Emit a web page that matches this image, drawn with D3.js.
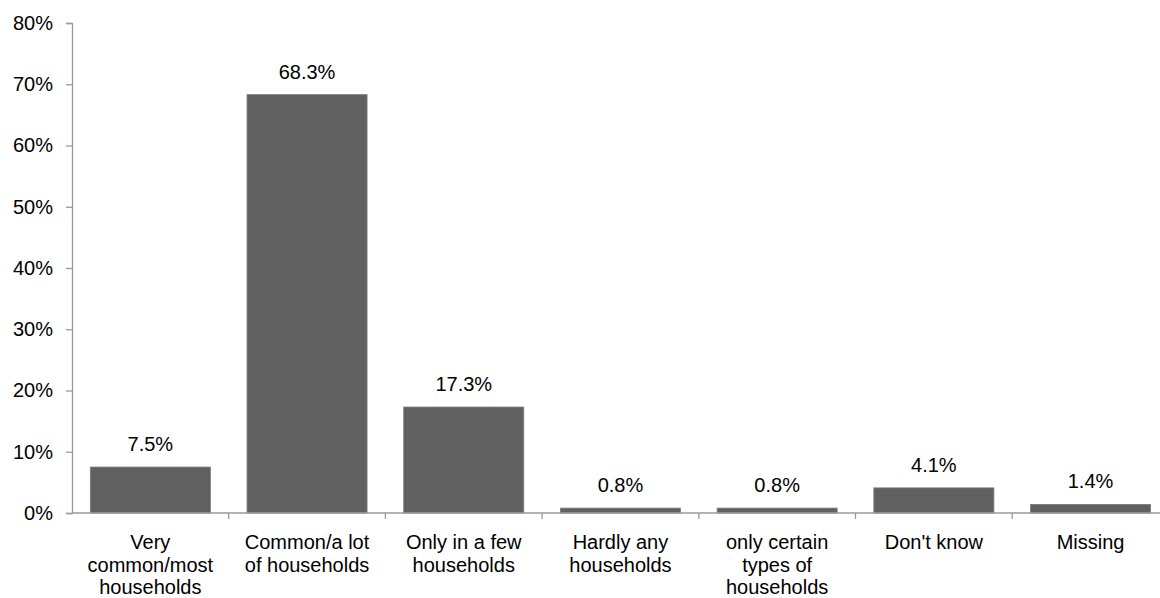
<!DOCTYPE html>
<html>
<head>
<meta charset="utf-8">
<script src="https://cdn.jsdelivr.net/npm/d3@7"></script>
<style>
  html, body { margin: 0; padding: 0; background: #fff; }
  svg { display: block; font-family: "Liberation Sans", Arial, sans-serif; }
</style>
</head>
<body>
<svg id="chart" width="1160" height="598"></svg>
<script>
// Survey responses: how widespread the practice is among households
const categories = [
  "Very common/most households",
  "Common/a lot of households",
  "Only in a few households",
  "Hardly any households",
  "only certain types of households",
  "Don't know",
  "Missing"
];
const shares = [7.5, 68.3, 17.3, 0.8, 0.8, 4.1, 1.4];
const yTicks = [0, 10, 20, 30, 40, 50, 60, 70, 80];

const svg = d3.select("#chart");
const plotLeft = 72, plotTop = 23, plotBottom = 513;
const bandW = 156.7;
const plotRight = plotLeft + bandW * categories.length;

const x = d3.scaleBand()
  .domain(categories)
  .range([plotLeft, plotRight])
  .paddingInner(0.234)
  .paddingOuter(0.117);

const y = d3.scaleLinear().domain([0, 80]).range([plotBottom, plotTop]);

const axisColor = "#9a9a9a";
const fontSize = 20;
const textColor = "#000";

// Bars
svg.append("g").selectAll("rect")
  .data(categories)
  .join("rect")
  .attr("x", d => x(d))
  .attr("width", x.bandwidth())
  .attr("y", (d, i) => y(shares[i]))
  .attr("height", (d, i) => y(0) - y(shares[i]))
  .attr("fill", "#606060")
  .attr("stroke", "#7a7a7a")
  .attr("stroke-width", 0.8);

// Value labels
svg.append("g").selectAll("text")
  .data(categories)
  .join("text")
  .attr("x", d => x(d) + x.bandwidth() / 2)
  .attr("y", (d, i) => y(shares[i]) - 16)
  .attr("text-anchor", "middle")
  .attr("font-size", fontSize)
  .attr("fill", textColor)
  .text((d, i) => shares[i].toFixed(1) + "%");

// Y axis
const yAxis = svg.append("g")
  .attr("transform", `translate(${plotLeft},0)`)
  .call(d3.axisLeft(y).tickValues(yTicks).tickFormat(d => d + "%").tickSize(6).tickPadding(13));
yAxis.select(".domain").attr("stroke", axisColor).attr("stroke-width", 1.3);
yAxis.selectAll(".tick line").attr("stroke", axisColor).attr("stroke-width", 1.3);
yAxis.selectAll(".tick text")
  .attr("font-size", fontSize)
  .attr("font-family", "Liberation Sans, Arial, sans-serif")
  .attr("fill", textColor);

// X axis: baseline with ticks at the band boundaries
const xg = svg.append("g");
xg.append("line")
  .attr("x1", plotLeft).attr("x2", 1160)
  .attr("y1", plotBottom).attr("y2", plotBottom)
  .attr("stroke", axisColor).attr("stroke-width", 1.3);
const boundaries = categories.map(c => x(c) - x.step() * x.paddingInner() / 2).slice(1);
xg.selectAll("line.tick")
  .data(boundaries)
  .join("line")
  .attr("class", "tick")
  .attr("x1", d => d).attr("x2", d => d)
  .attr("y1", plotBottom).attr("y2", plotBottom + 6)
  .attr("stroke", axisColor).attr("stroke-width", 1.3);

// Category labels, wrapped to fit the band
function wrapWords(text, maxW) {
  const words = text.split(" ");
  const lines = [];
  let line = "";
  const probe = svg.append("text").attr("font-size", fontSize);
  words.forEach(w => {
    const test = line ? line + " " + w : w;
    probe.text(test);
    if (probe.node().getComputedTextLength() > maxW && line) {
      lines.push(line);
      line = w;
    } else {
      line = test;
    }
  });
  if (line) lines.push(line);
  probe.remove();
  return lines;
}

const catLabels = svg.append("g").selectAll("text")
  .data(categories)
  .join("text")
  .attr("x", d => x(d) + x.bandwidth() / 2)
  .attr("y", plotBottom + 36)
  .attr("text-anchor", "middle")
  .attr("font-size", fontSize)
  .attr("fill", textColor);
catLabels.each(function(d) {
  const lines = wrapWords(d, 140);
  const t = d3.select(this);
  lines.forEach((ln, i) => {
    t.append("tspan")
      .attr("x", x(d) + x.bandwidth() / 2)
      .attr("dy", i === 0 ? 0 : 22.5)
      .text(ln);
  });
});
</script>
</body>
</html>
